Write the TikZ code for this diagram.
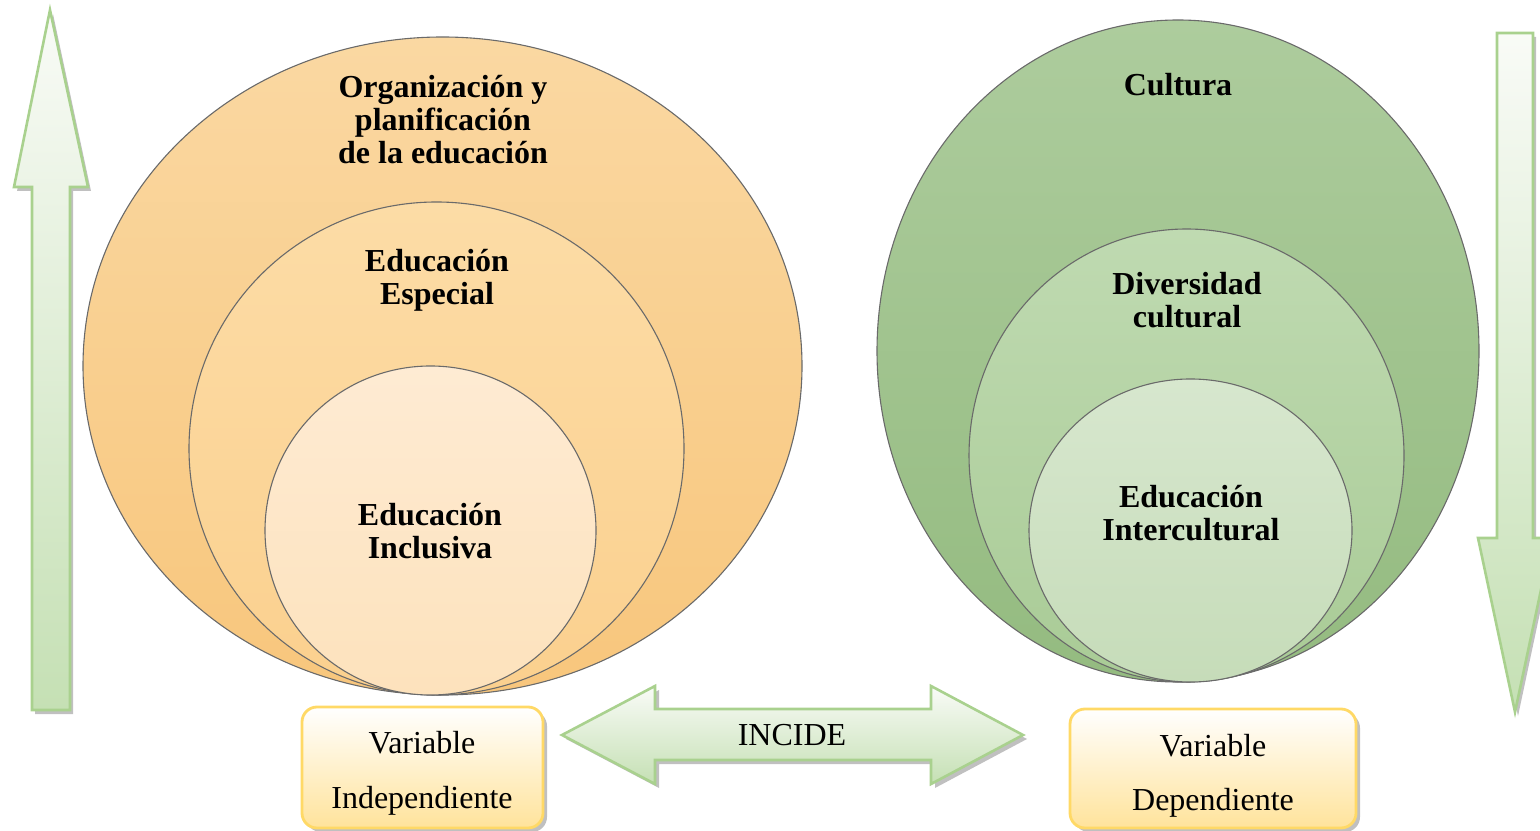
\documentclass[tikz,border=0pt]{standalone}
\usepackage{fontspec}
\setmainfont{Liberation Serif}
\usetikzlibrary{shapes.geometric}
\definecolor{orOutTop}{HTML}{FAD8A2}
\definecolor{orOutBot}{HTML}{F8C67C}
\definecolor{orMidTop}{HTML}{FCDCA6}
\definecolor{orMidBot}{HTML}{FBD08E}
\definecolor{orInTop}{HTML}{FEEBD3}
\definecolor{orInBot}{HTML}{FDE2BC}
\definecolor{grOutTop}{HTML}{ADCC9D}
\definecolor{grOutBot}{HTML}{94BB80}
\definecolor{grMidTop}{HTML}{BFDAB1}
\definecolor{grMidBot}{HTML}{A9CB96}
\definecolor{grInTop}{HTML}{D7E7CE}
\definecolor{grInBot}{HTML}{C6DCB9}
\definecolor{arrLine}{HTML}{A9D18E}
\definecolor{arrLight}{HTML}{F9FBF7}
\definecolor{arrDark}{HTML}{C5E0B4}
\definecolor{boxLine}{HTML}{FFD966}
\definecolor{boxBot}{HTML}{FFE39B}
\definecolor{ringLine}{HTML}{6A6A6A}
\tikzset{
  ring/.style={ellipse, inner sep=0pt, draw=ringLine, line width=0.55pt},
  ttl/.style={font=\bfseries\fontsize{16}{16.5}\selectfont, align=center, inner sep=0pt},
  arrowbody/.style={draw=arrLine, line width=1.3pt, line join=miter},
  shadowpath/.style={fill=black!45, opacity=0.55},
  varbox/.style={draw=boxLine, line width=1.4pt, rounded corners=7.5pt, top color=white, bottom color=boxBot,
                 align=center, font=\fontsize{16}{27.5}\selectfont, inner sep=0pt},
  plain/.style={font=\fontsize{16}{19}\selectfont, inner sep=0pt}
}
\begin{document}
\begin{tikzpicture}[x=0.5pt,y=0.5pt]
\useasboundingbox (0,0) rectangle (1540,830);
\clip (0,0) rectangle (1540,830);

% ---- left up arrow ----
\fill[shadowpath] (35,116) -- (35,639) -- (17,639) -- (53,816) -- (91,639) -- (73,639) -- (73,116) -- cycle;
\path[arrowbody, top color=arrLight, bottom color=arrDark]
  (32,120) -- (32,643) -- (14,643) -- (50,820) -- (88,643) -- (70,643) -- (70,120) -- cycle;

% ---- right down arrow ----
\fill[shadowpath] (1500,793) -- (1536,793) -- (1536,288) -- (1555,288) -- (1518,114) -- (1481,288) -- (1500,288) -- cycle;
\path[arrowbody, top color=arrLight, bottom color=arrDark]
  (1497,797) -- (1533,797) -- (1533,292) -- (1552,292) -- (1515,118) -- (1478,292) -- (1497,292) -- cycle;

% ---- orange circles ----
\node[ring, minimum width=359.5pt, minimum height=329pt, top color=orOutTop, bottom color=orOutBot] (oOut) at (442.5,464) {};
\node[ring, minimum width=247.5pt, minimum height=246.5pt, top color=orMidTop, bottom color=orMidBot] (oMid) at (436.5,381.5) {};
\node[ring, minimum width=165.5pt, minimum height=164.5pt, top color=orInTop, bottom color=orInBot] (oIn) at (430.5,299.5) {};

% ---- green circles ----
\node[ring, minimum width=301pt, minimum height=331pt, top color=grOutTop, bottom color=grOutBot] (gOut) at (1178,479) {};
\node[ring, minimum width=217.5pt, minimum height=226.5pt, top color=grMidTop, bottom color=grMidBot] (gMid) at (1186.5,374.5) {};
\node[ring, minimum width=161.5pt, minimum height=151.5pt, top color=grInTop, bottom color=grInBot] (gIn) at (1190.5,299.5) {};

% ---- titles ----
\node[ttl] (tOrg) at (443,710) {Organización y\\planificación\\de la educación};
\node[ttl] (tEsp) at (437,550) {Educación\\Especial};
\node[ttl] (tInc) at (430,299) {Educación\\Inclusiva};
\node[ttl] (tCul) at (1178,745) {Cultura};
\node[ttl] (tDiv) at (1187,530) {Diversidad\\cultural};
\node[ttl] (tInt) at (1191,317) {Educación\\Intercultural};

% ---- double arrow ----
\fill[shadowpath] (566,91) -- (659,140) -- (659,117) -- (935,117) -- (935,140) -- (1027,91) -- (935,42) -- (935,66) -- (659,66) -- (659,42) -- cycle;
\path[arrowbody, top color=arrLight, bottom color=arrDark]
  (562,95) -- (655,144) -- (655,121) -- (931,121) -- (931,144) -- (1023,95) -- (931,46) -- (931,70) -- (655,70) -- (655,46) -- cycle;
\node[plain] (incide) at (792,95) {INCIDE};

% ---- variable boxes ----
\fill[shadowpath, rounded corners=7.5pt] (306,-2) rectangle (547,119);
\node[varbox, minimum width=120.5pt, minimum height=60.5pt] (vInd) at (422.5,62.5) {};
\node[plain] (vIndA) at (422,87) {Variable};
\node[plain] (vIndB) at (422,29) {Independiente};

\fill[shadowpath, rounded corners=7.5pt] (1074,-2) rectangle (1360,117);
\node[varbox, minimum width=143pt, minimum height=59.5pt] (vDep) at (1213,61.5) {};
\node[plain] (vDepA) at (1213,84) {Variable};
\node[plain] (vDepB) at (1213,27) {Dependiente};
\end{tikzpicture}
\end{document}
